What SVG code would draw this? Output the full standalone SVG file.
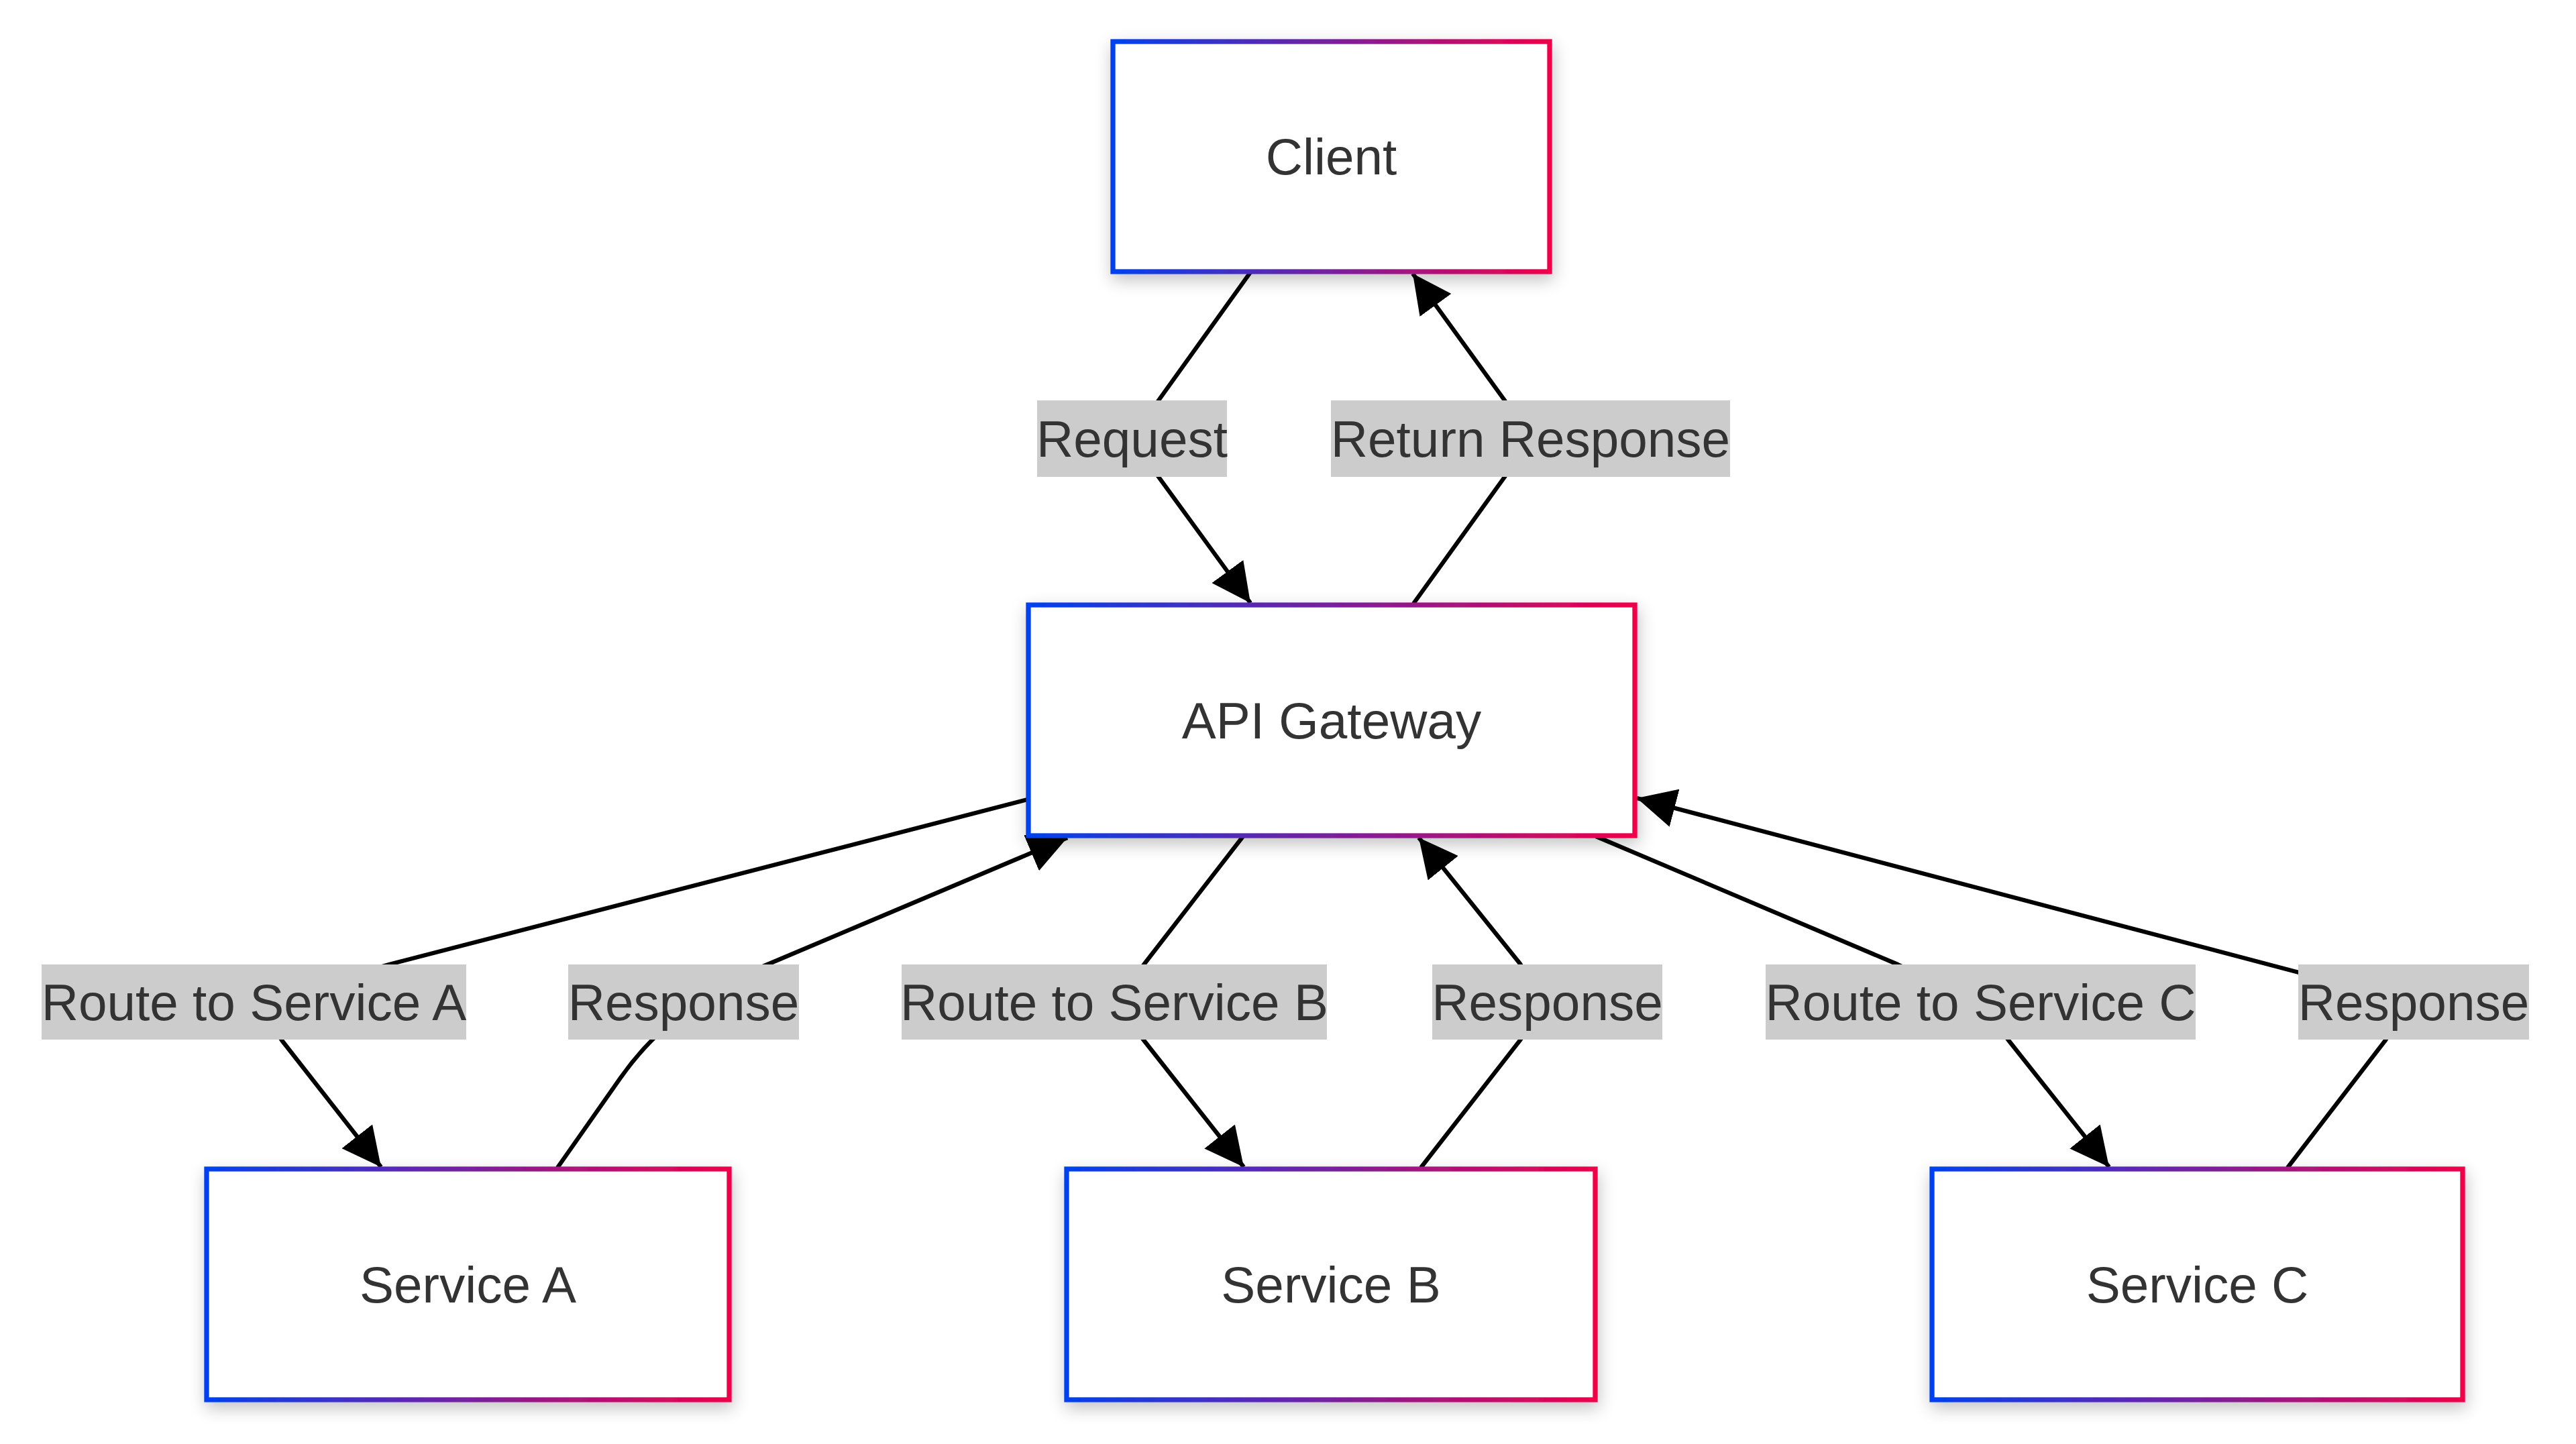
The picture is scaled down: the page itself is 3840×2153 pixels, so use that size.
<svg xmlns="http://www.w3.org/2000/svg" width="3840" height="2153" viewBox="0 0 3840 2153">
  <defs>
    <linearGradient id="nodeStroke" x1="0" y1="0" x2="1" y2="0">
      <stop offset="0" stop-color="#0040f0"/>
      <stop offset="1" stop-color="#f0004a"/>
    </linearGradient>
    <filter id="shadow" x="-20%" y="-30%" width="140%" height="170%">
      <feDropShadow dx="2" dy="9" stdDeviation="12" flood-color="#000" flood-opacity="0.24"/>
    </filter>
    <marker id="arrow" viewBox="0 0 10 10" refX="10" refY="5" markerUnits="userSpaceOnUse" markerWidth="58" markerHeight="58" orient="auto">
      <path d="M0,0 L10,5 L0,10 z" fill="#000"/>
    </marker>
    <style>
      .node rect { fill: #ffffff; stroke: url(#nodeStroke); stroke-width: 7.3; filter: url(#shadow); }
      .node text { font-family: "Liberation Sans", Arial, sans-serif; font-size: 76.5px; fill: #333333; text-anchor: middle; }
      .edge { fill: none; stroke: #000000; stroke-width: 6.3; marker-end: url(#arrow); }
      .label rect { fill: #cccccc; }
      .label text { font-family: "Liberation Sans", Arial, sans-serif; font-size: 76.5px; fill: #333333; text-anchor: middle; }
    </style>
  </defs>
  <rect x="0" y="0" width="3840" height="2153" fill="#ffffff"/>

  <g id="connectors">
    <path id="e-request" class="edge" d="M1864,406 L1727,597 Q1687,654 1727,711 L1864,899"/>
    <path id="e-return" class="edge" d="M2107,900 L2243,711 Q2281,654 2243,597 L2106,408"/>
    <path id="e-routeA" class="edge" d="M1532,1192 L580,1438 Q378,1494 420,1551 L568,1740"/>
    <path id="e-respA" class="edge" d="M831,1741 L925,1607 C965,1550 1030,1485 1144,1438 L1591,1249"/>
    <path id="e-routeB" class="edge" d="M1853,1247 L1706,1437 Q1661,1494 1705,1551 L1854,1740"/>
    <path id="e-respB" class="edge" d="M2118,1741 L2266,1551 Q2306,1494 2266,1437 L2115,1249"/>
    <path id="e-routeC" class="edge" d="M2379,1247 L2829,1438 Q2952,1494 2994,1551 L3144,1740"/>
    <path id="e-respC" class="edge" d="M3410,1741 L3556,1551 Q3600,1490 3427,1450 L2440,1190"/>
  </g>

  <g id="edge-labels">
    <g class="label" id="l-request"><rect x="1546" y="597" width="283" height="114"/><text x="1687.5" y="681">Request</text></g>
    <g class="label" id="l-return"><rect x="1984" y="597" width="595" height="114"/><text x="2281.5" y="681">Return Response</text></g>
    <g class="label" id="l-routeA"><rect x="62" y="1438" width="633" height="112"/><text x="378.5" y="1521">Route to Service A</text></g>
    <g class="label" id="l-respA"><rect x="847" y="1438" width="344" height="112"/><text x="1019" y="1521">Response</text></g>
    <g class="label" id="l-routeB"><rect x="1344" y="1438" width="634" height="112"/><text x="1661" y="1521">Route to Service B</text></g>
    <g class="label" id="l-respB"><rect x="2135" y="1438" width="343" height="112"/><text x="2306.5" y="1521">Response</text></g>
    <g class="label" id="l-routeC"><rect x="2632" y="1438" width="641" height="112"/><text x="2952.5" y="1521">Route to Service C</text></g>
    <g class="label" id="l-respC"><rect x="3426" y="1438" width="344" height="112"/><text x="3598" y="1521">Response</text></g>
  </g>

  <g id="node-client" class="node"><rect x="1659" y="62" width="651" height="343"/><text x="1984.5" y="260">Client</text></g>
  <g id="node-gateway" class="node"><rect x="1533" y="902" width="904" height="344"/><text x="1985" y="1101">API Gateway</text></g>
  <g id="node-serviceA" class="node"><rect x="308" y="1743" width="779" height="344"/><text x="697.5" y="1942">Service A</text></g>
  <g id="node-serviceB" class="node"><rect x="1590" y="1743" width="788" height="344"/><text x="1984" y="1942">Service B</text></g>
  <g id="node-serviceC" class="node"><rect x="2880" y="1743" width="791" height="344"/><text x="3275.5" y="1942">Service C</text></g>
</svg>
